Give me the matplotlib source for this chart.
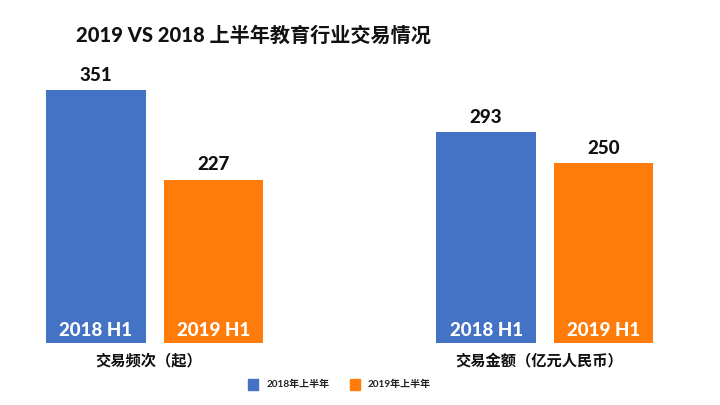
import numpy as np
import matplotlib.pyplot as plt
from matplotlib.patches import Rectangle

plt.rcParams['font.family'] = ['Lato', 'Noto Sans CJK SC', 'DejaVu Sans']

# data
metrics = ['交易频次（起）', '交易金额（亿元人民币）']
periods = ['2018 H1', '2019 H1']
legend_labels = ['2018年上半年', '2019年上半年']
v2018 = [351, 293]
v2019 = [227, 250]
colors = ['#4472C4', '#FF7C0A']

fig = plt.figure(figsize=(7.2, 4.05), dpi=100)
ax = fig.add_axes([0, 0.153, 1, 0.70])

group_gap = 3.32
width = 0.85
xg = np.arange(len(metrics)) * group_gap
for i, (vals, c) in enumerate(zip([v2018, v2019], colors)):
    xs = xg + i
    ax.bar(xs, vals, width=width, color=c)
    for x, v in zip(xs, vals):
        ax.text(x, v + 9, str(v), ha='center', va='bottom', fontsize=13.5,
                fontweight='black', color='#111111')
        ax.text(x, 17, periods[i], ha='center', va='center', fontsize=13.5,
                fontweight='black', color='white')

for x, m in zip(xg, metrics):
    ax.text(x + 0.45, -14, m, ha='center', va='top', fontsize=11,
            fontweight='bold', color='#111111')

ax.set_xlim(-0.817, 5.311)
ax.set_ylim(0, 394)
ax.axis('off')

fig.text(0.105, 0.913, '2019 VS 2018 上半年教育行业交易情况', fontsize=14.5,
         fontweight='black', color='#111111', va='center')

# legend
lx = [0.345, 0.486]
for x, lab, c in zip(lx, legend_labels, colors):
    fig.patches.append(Rectangle((x, 0.036), 0.0135, 0.027, transform=fig.transFigure,
                                 color=c))
    fig.text(x + 0.025, 0.05, lab, fontsize=7.2, fontweight='bold', va='center',
             color='#222222')

plt.savefig('out.png', dpi=100)
